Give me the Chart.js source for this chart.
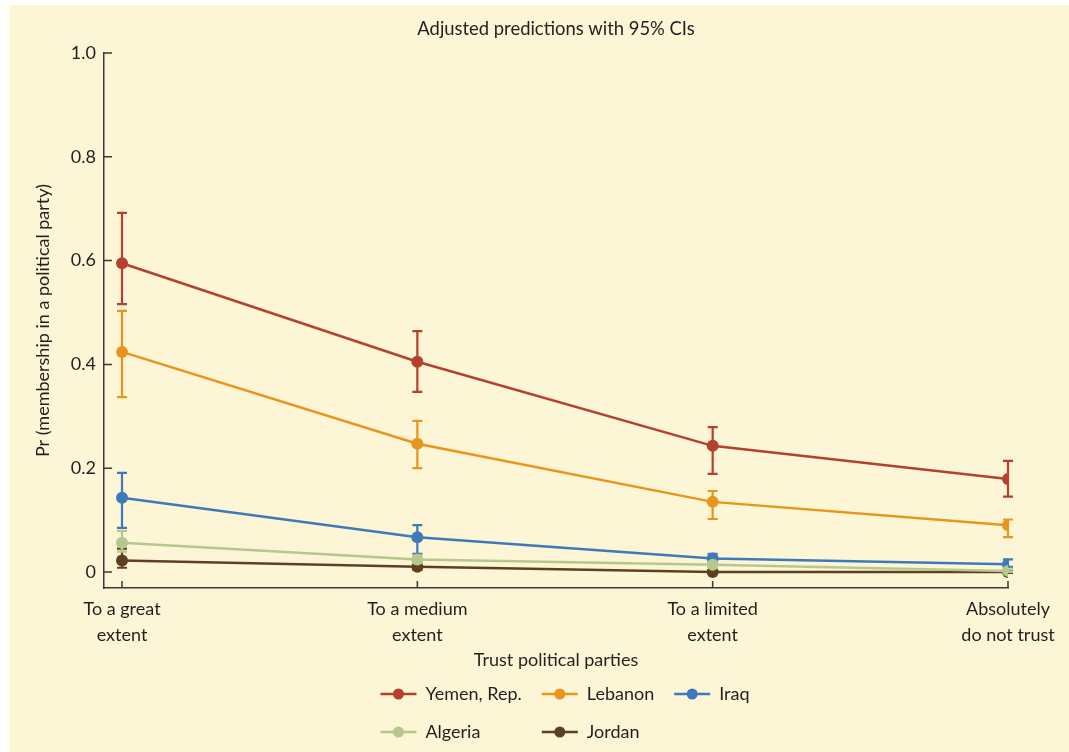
<!DOCTYPE html>
<html><head><meta charset="utf-8">
<script src="https://cdn.jsdelivr.net/npm/chart.js@4.4.1/dist/chart.umd.min.js"></script>
<style>
html,body{margin:0;padding:0;background:#fff;}
#wrap{position:absolute;left:9px;top:5px;width:1060px;height:747px;background:#fcf5d6;}
canvas{display:block;}
</style></head><body>
<div id="wrap"><canvas id="c" width="1060" height="747"></canvas></div>
<script>
const categories = [["To a great","extent"],["To a medium","extent"],["To a limited","extent"],["Absolutely","do not trust"]];
const seriesNames = ["Yemen, Rep.","Lebanon","Iraq","Algeria","Jordan"];
const yemen      = [0.595, 0.405, 0.243, 0.179];
const yemenLow   = [0.516, 0.347, 0.189, 0.145];
const yemenHigh  = [0.692, 0.464, 0.279, 0.214];
const lebanon     = [0.424, 0.247, 0.135, 0.090];
const lebanonLow  = [0.337, 0.200, 0.102, 0.067];
const lebanonHigh = [0.503, 0.291, 0.156, 0.101];
const iraq      = [0.143, 0.067, 0.026, 0.015];
const iraqLow   = [0.085, 0.035, 0.018, 0.010];
const iraqHigh  = [0.191, 0.090, 0.035, 0.024];
const algeria     = [0.056, 0.024, 0.014, 0.002];
const algeriaLow  = [0.039, 0.017, 0.009, 0.000];
const algeriaHigh = [0.079, 0.031, 0.019, 0.005];
const jordan     = [0.022, 0.010, 0.000, 0.000];
const jordanLow  = [0.008, 0.004, -0.003, -0.002];
const jordanHigh = [0.045, 0.016, 0.003, 0.002];
const yTicks = [0, 0.2, 0.4, 0.6, 0.8, 1.0];

const values = [yemen, lebanon, iraq, algeria, jordan];
const lows = [yemenLow, lebanonLow, iraqLow, algeriaLow, jordanLow];
const highs = [yemenHigh, lebanonHigh, iraqHigh, algeriaHigh, jordanHigh];
const colors = ['#b4402e', '#e8951e', '#3e79ba', '#b7c88d', '#5d4020'];
const drawOrder = [2, 3, 4, 1, 5];
const textColor = '#231f20';
const axisColor = '#3a3a3a';
const FONT = 'Lato, "Liberation Sans", sans-serif';

Chart.defaults.font.family = FONT;
Chart.defaults.color = textColor;

const errorBars = {
  id: 'errorBars',
  beforeDatasetDraw(chart, args) {
    const i = args.index;
    const xs = chart.scales.x, ys = chart.scales.y, ctx = chart.ctx;
    ctx.save();
    ctx.strokeStyle = colors[i];
    ctx.lineWidth = 2.2;
    lows[i].forEach((lo, j) => {
      const x = xs.getPixelForValue(j);
      const y1 = ys.getPixelForValue(lo), y2 = ys.getPixelForValue(highs[i][j]);
      ctx.beginPath();
      ctx.moveTo(x, y1); ctx.lineTo(x, y2);
      ctx.moveTo(x - 5, y1); ctx.lineTo(x + 5, y1);
      ctx.moveTo(x - 5, y2); ctx.lineTo(x + 5, y2);
      ctx.stroke();
    });
    ctx.restore();
  }
};

const inwardTicks = {
  id: 'inwardTicks',
  beforeDatasetsDraw(chart) {
    const xs = chart.scales.x, ys = chart.scales.y, ctx = chart.ctx;
    ctx.save();
    ctx.strokeStyle = axisColor;
    ctx.lineWidth = 1.5;
    ctx.beginPath();
    xs.ticks.forEach(t => {
      const px = xs.getPixelForValue(t.value);
      ctx.moveTo(px, xs.top); ctx.lineTo(px, xs.top - 7);
    });
    ys.ticks.forEach(t => {
      const py = ys.getPixelForValue(t.value);
      ctx.moveTo(ys.right, py); ctx.lineTo(ys.right + 8, py);
    });
    ctx.stroke();
    ctx.restore();
  }
};

const gridLegend = {
  id: 'gridLegend',
  afterDraw(chart) {
    const ctx = chart.ctx;
    ctx.save();
    ctx.font = '18px ' + FONT;
    const cols = 3, sample = 36, gap = 9, colGap = 20, rowH = 38;
    const items = chart.data.datasets.map((d, i) => ({ text: d.label, color: colors[i], w: sample + gap + ctx.measureText(d.label).width }));
    const colW = [];
    items.forEach((it, k) => { const c = k % cols; colW[c] = Math.max(colW[c] || 0, it.w); });
    const total = colW.reduce((a, b) => a + b, 0) + colGap * (cols - 1);
    const ca = chart.chartArea;
    const startX = (ca.left + ca.right) / 2 + 9 - total / 2;
    const row1 = ca.bottom + 106;
    items.forEach((it, k) => {
      const c = k % cols, r = Math.floor(k / cols);
      let x = startX;
      for (let m = 0; m < c; m++) x += colW[m] + colGap;
      const y = row1 + r * rowH;
      ctx.strokeStyle = it.color;
      ctx.lineWidth = 2.5;
      ctx.beginPath(); ctx.moveTo(x, y); ctx.lineTo(x + sample, y); ctx.stroke();
      ctx.fillStyle = it.color;
      ctx.beginPath(); ctx.arc(x + sample / 2, y, 5.5, 0, Math.PI * 2); ctx.fill();
      ctx.fillStyle = textColor;
      ctx.textBaseline = 'middle';
      ctx.textAlign = 'left';
      ctx.fillText(it.text, x + sample + gap, y);
    });
    ctx.restore();
  }
};

new Chart(document.getElementById('c'), {
  type: 'line',
  data: {
    datasets: seriesNames.map((n, i) => ({
      label: n,
      data: values[i].map((v, j) => ({ x: j, y: v })),
      borderColor: colors[i],
      backgroundColor: colors[i],
      borderWidth: 2.5,
      pointRadius: 6,
      pointBorderWidth: 0,
      pointHoverRadius: 6,
      tension: 0,
      order: drawOrder[i]
    }))
  },
  options: {
    responsive: false,
    animation: false,
    events: [],
    layout: { padding: { top: 0, left: 0, right: 61, bottom: 74 } },
    plugins: {
      legend: { display: false },
      tooltip: { enabled: false },
      title: {
        display: true, text: 'Adjusted predictions with 95% CIs', fullSize: false,
        font: { size: 18.4, weight: 'normal' }, color: textColor, padding: { top: 13, bottom: 13 }
      }
    },
    scales: {
      x: {
        type: 'linear', min: -0.061, max: 3,
        afterBuildTicks: s => { s.ticks = categories.map((c, i) => ({ value: i })); },
        afterFit: s => { s.height = 90; },
        grid: { display: false, drawTicks: false },
        border: { display: true, color: axisColor, width: 1.5 },
        ticks: { padding: 8, autoSkip: false, maxRotation: 0, color: textColor,
          font: { size: 18, lineHeight: 1.45 }, callback: v => categories[v] },
        title: { display: true, text: 'Trust political parties', color: textColor,
          font: { size: 18 }, padding: { top: 0, bottom: 7 } }
      },
      y: {
        min: -0.031, max: 1.0,
        afterBuildTicks: s => { s.ticks = yTicks.map(v => ({ value: v })); },
        afterFit: s => { s.width = 95; },
        grid: { display: false, drawTicks: false },
        border: { display: true, color: axisColor, width: 1.5 },
        ticks: { padding: 8, color: textColor, font: { size: 18 },
          callback: v => v === 0 ? '0' : v.toFixed(1) },
        title: { display: true, text: 'Pr (membership in a political party)', color: textColor,
          font: { size: 18 }, padding: { top: 23, bottom: 0 } }
      }
    }
  },
  plugins: [errorBars, inwardTicks, gridLegend]
});
</script>
</body></html>
